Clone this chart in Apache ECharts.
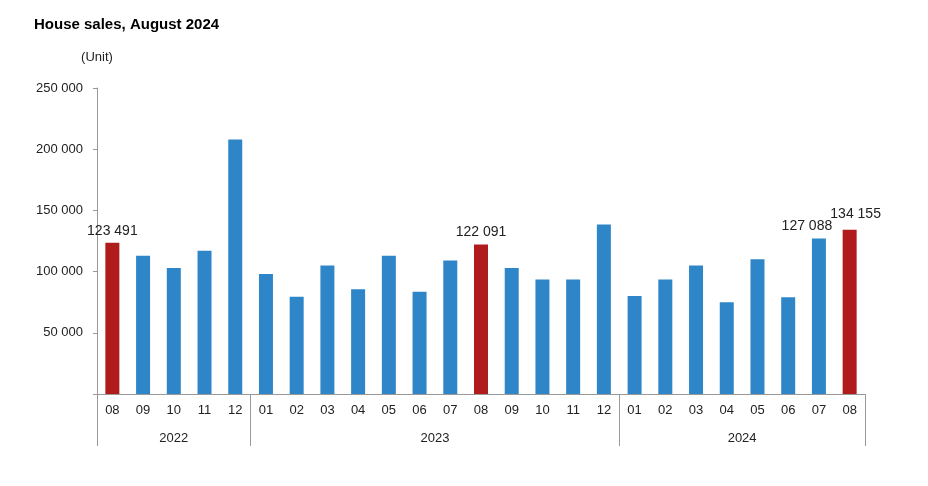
<!DOCTYPE html>
<html lang="en">
<head>
<meta charset="UTF-8">
<title>House sales</title>
<script src="https://cdn.jsdelivr.net/npm/echarts@6/dist/echarts.min.js"></script>
</head>
<body style="margin:0;background:#fff">
<div id="main" style="width:928px;height:486px;"></div>
<script>
var months = ['08','09','10','11','12','01','02','03','04','05','06','07','08','09','10','11','12','01','02','03','04','05','06','07','08'];
var sales = [123491,113000,103000,117000,208000,98000,79500,105000,85500,113000,83500,109000,122091,103000,93500,93500,138500,80000,93500,105000,75000,110000,79000,127088,134155];
var highlighted = [0, 12, 24];
var labelled = [0, 12, 23, 24];
var years = ['2022', '2023', '2024'];
// year row in half-month steps: boundaries and centres
var yearBounds = [0, 10, 34, 50];
var yearCentres = [5, 22, 42];

var fmt = function (v) { return String(v).replace(/\B(?=(\d{3})+(?!\d))/g, ' '); };
var font = 'Liberation Sans, Arial, sans-serif';

var yearSlots = [];
for (var i = 0; i <= 50; i++) {
    var k = yearCentres.indexOf(i);
    yearSlots.push(k >= 0 ? years[k] : '');
}

var chart = echarts.init(document.getElementById('main'));
chart.setOption({
    animation: false,
    textStyle: { fontFamily: font },
    title: {
        text: 'House sales, August 2024', left: 29, top: 12,
        textStyle: { fontSize: 15, fontWeight: 'bold', color: '#000', fontFamily: font }
    },
    grid: { left: 97, right: 63, top: 88, bottom: 92 },
    xAxis: [{
        type: 'category', data: months,
        axisLine: { lineStyle: { color: '#999' } },
        axisTick: { length: 24, lineStyle: { color: '#999' } },
        axisLabel: { color: '#222', fontSize: 13, margin: 10 }
    }, {
        type: 'category', data: yearSlots, position: 'bottom', boundaryGap: false,
        axisLine: { show: false },
        axisTick: { length: 52, inside: false, lineStyle: { color: '#999' },
            interval: function (i) { return yearBounds.indexOf(i) >= 0; } },
        axisLabel: { color: '#222', fontSize: 13, margin: 38,
            interval: function (i) { return yearCentres.indexOf(i) >= 0; } }
    }],
    yAxis: {
        type: 'value', min: 0, max: 250000, interval: 50000,
        name: '(Unit)', nameLocation: 'end', nameGap: 24,
        nameTextStyle: { color: '#222', fontSize: 13, align: 'center', padding: [0, 0, 0, 0] },
        axisLine: { show: true, lineStyle: { color: '#999' } },
        axisTick: { show: true, length: 4, lineStyle: { color: '#999' } },
        splitLine: { show: false },
        axisLabel: { color: '#222', fontSize: 13, margin: 14,
            formatter: function (v) { return v === 0 ? '' : fmt(v); } }
    },
    series: [{
        type: 'bar', barWidth: 14,
        data: sales.map(function (v, i) {
            var d = { value: v, itemStyle: { color: highlighted.indexOf(i) >= 0 ? '#b01c1c' : '#2e86c8' } };
            if (labelled.indexOf(i) >= 0) {
                d.label = { show: true, position: 'top', color: '#222', fontSize: 14,
                    formatter: function (p) { return fmt(p.value); },
                    offset: i === 23 ? [-12, 0] : (i === 24 ? [6, -4] : [0, 0]) };
            }
            return d;
        })
    }]
});
</script>
</body>
</html>
